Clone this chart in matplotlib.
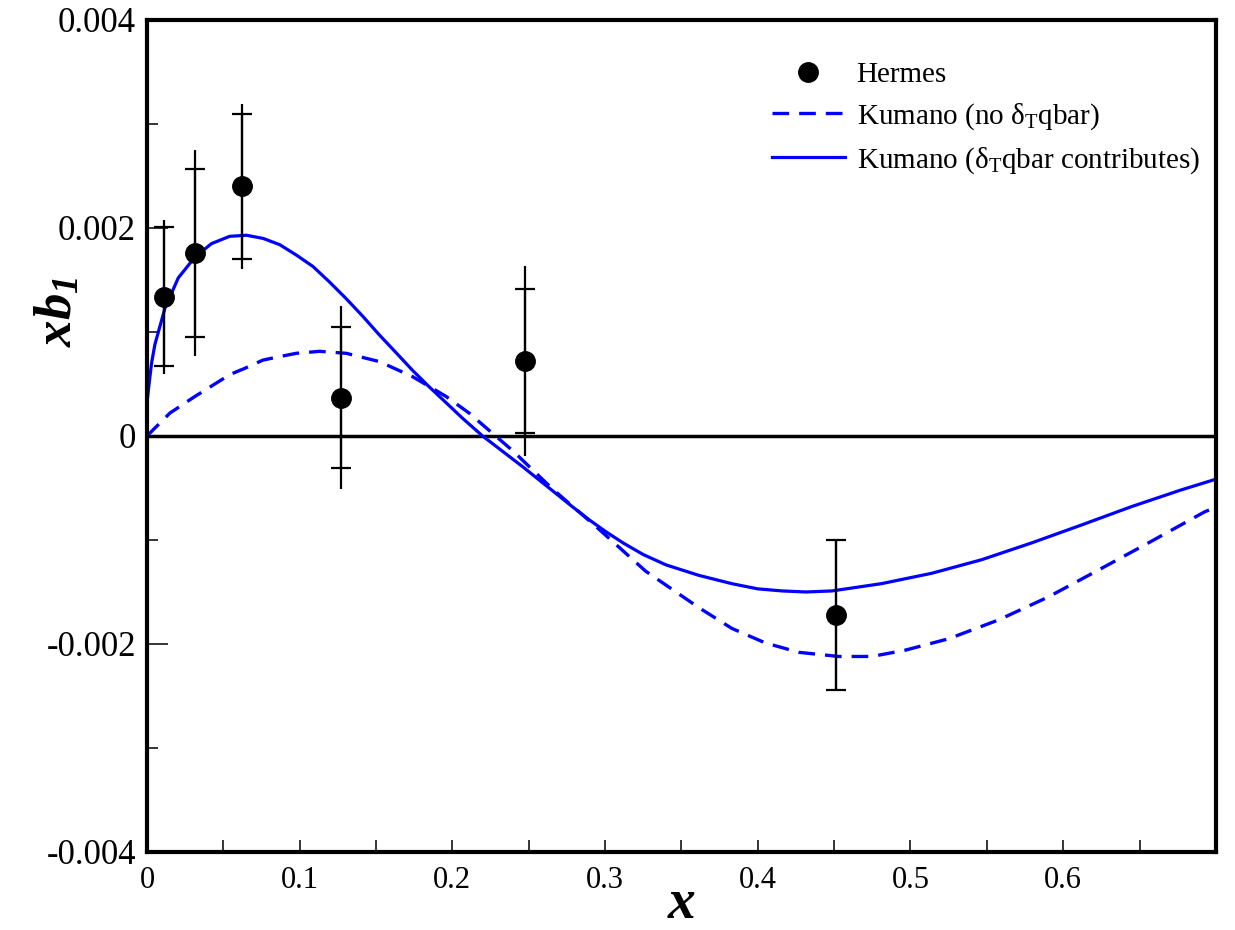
import matplotlib
matplotlib.use('Agg')
import matplotlib.pyplot as plt
from matplotlib.ticker import MultipleLocator, FuncFormatter

plt.rcParams['font.family'] = ['Liberation Serif', 'DejaVu Serif']
plt.rcParams['mathtext.fontset'] = 'custom'
plt.rcParams['mathtext.rm'] = 'Liberation Serif'
plt.rcParams['mathtext.it'] = 'Liberation Serif:italic:bold'
plt.rcParams['mathtext.bf'] = 'Liberation Serif:italic:bold'

# Hermes data points
hermes_x = [0.0113, 0.0314, 0.0625, 0.1272, 0.2475, 0.451]
hermes_y = [0.00134, 0.00176, 0.00240, 0.00037, 0.00072, -0.00172]
hermes_stat = [0.00067, 0.00081, 0.00070, 0.00068, 0.00069, 0.00072]
hermes_tot = [0.00074, 0.00099, 0.00079, 0.00088, 0.00091, 0.00072]

# Kumano, delta_T qbar contributes (solid)
solid_x = [0.0005, 0.001, 0.003, 0.0052, 0.0118, 0.0205, 0.0314, 0.0423,
           0.0542, 0.0652, 0.076, 0.0869, 0.0978, 0.1087, 0.1196, 0.1305,
           0.1414, 0.1523, 0.1632, 0.174, 0.185, 0.1959, 0.2067, 0.2198,
           0.246, 0.2786, 0.290, 0.3005, 0.312, 0.325, 0.340, 0.3614,
           0.383, 0.400, 0.416, 0.4316, 0.4486, 0.481, 0.514, 0.5466,
           0.579, 0.612, 0.6446, 0.677, 0.699]
solid_y = [0.00038, 0.00045, 0.00070, 0.00088, 0.00123, 0.00152, 0.00172,
           0.00185, 0.00192, 0.00193, 0.00190, 0.00184, 0.00174, 0.00163,
           0.00148, 0.00132, 0.00115, 0.00097, 0.00080, 0.00063, 0.00047,
           0.00032, 0.00017, 0.0, -0.000295, -0.00068, -0.00081,
           -0.00092, -0.00103, -0.00114, -0.00124, -0.00134, -0.00142,
           -0.00147, -0.00149, -0.00150, -0.00149, -0.00142, -0.00132,
           -0.00119, -0.00103, -0.000856, -0.00068, -0.00052, -0.00042]

# Kumano, no delta_T qbar (dashed)
dash_x = [0.0, 0.015, 0.0314, 0.0488, 0.0542, 0.064, 0.076, 0.0858,
          0.0978, 0.113, 0.1305, 0.1523, 0.174, 0.1959, 0.211, 0.222,
          0.2394, 0.2656, 0.294, 0.3266, 0.3614, 0.383, 0.405, 0.4268,
          0.453, 0.4747, 0.4965, 0.525, 0.5575, 0.590, 0.623, 0.6556,
          0.6926, 0.699]
dash_y = [0.0, 0.00022, 0.00038, 0.00054, 0.00059, 0.00065, 0.00073,
          0.00076, 0.000795, 0.000814, 0.000795, 0.000715, 0.00057,
          0.00038, 0.00022, 0.00008, -0.00014, -0.00051, -0.00087,
          -0.00130, -0.00165, -0.00185, -0.00199, -0.00208, -0.00212,
          -0.00212, -0.00206, -0.00195, -0.00177, -0.00155, -0.00129,
          -0.00103, -0.00073, -0.00069]

fig = plt.figure(figsize=(12.35, 9.3), dpi=100)
ax = fig.add_axes([0.119, 0.0839, 0.8655, 0.8946])

ax.axhline(0, color='k', lw=2.5, zorder=1)

ax.plot(dash_x, dash_y, color='#0000ff', lw=2.4, dashes=(5, 3),
        label=r'Kumano (no $\mathrm{\delta_T}$qbar)', zorder=2)
ax.plot(solid_x, solid_y, color='#0000ff', lw=2.3,
        label=r'Kumano ($\mathrm{\delta_T}$qbar contributes)', zorder=2)

ax.errorbar(hermes_x, hermes_y, yerr=hermes_tot, fmt='none', ecolor='k',
            elinewidth=1.6, capsize=0, zorder=3)
ax.errorbar(hermes_x, hermes_y, yerr=hermes_stat, fmt='none', ecolor='k',
            elinewidth=1.6, capsize=7, capthick=1.6, zorder=3)
ax.plot(hermes_x, hermes_y, 'o', color='k', ms=14, zorder=4, label='Hermes')

ax.set_xlim(0, 0.7)
ax.set_ylim(-0.004, 0.004)
ax.xaxis.set_major_locator(MultipleLocator(0.1))
ax.xaxis.set_minor_locator(MultipleLocator(0.05))
ax.yaxis.set_major_locator(MultipleLocator(0.002))
ax.yaxis.set_minor_locator(MultipleLocator(0.001))
ax.xaxis.set_major_formatter(FuncFormatter(
    lambda v, p: '0' if abs(v) < 1e-9 else ('%.1f' % v if v < 0.65 else '')))
ax.yaxis.set_major_formatter(FuncFormatter(
    lambda v, p: '0' if abs(v) < 1e-9 else '%.3f' % v))
ax.tick_params(which='both', direction='in', top=False, right=False, width=1.1)
ax.tick_params(axis='y', which='major', length=15, labelsize=25, pad=8)
ax.tick_params(axis='y', which='minor', length=8)
ax.tick_params(axis='x', which='both', length=9, labelsize=22, pad=10)
for s in ax.spines.values():
    s.set_linewidth(3)

ax.set_xlabel('x', fontsize=40, fontstyle='italic', fontweight='bold')
ax.xaxis.set_label_coords(0.5, -0.031)
ax.set_ylabel(r'$xb_{\mathbf{1}}$', fontsize=38)
ax.yaxis.set_label_coords(-0.06, 0.649)

handles, labels = ax.get_legend_handles_labels()
order = [2, 0, 1]
ax.legend([handles[i] for i in order], [labels[i] for i in order],
          loc='upper left', bbox_to_anchor=(0.5847, 0.950), frameon=False,
          fontsize=21, handlelength=2.5, handletextpad=0.4,
          labelspacing=0.45, borderpad=0, borderaxespad=0)

fig.savefig('out.png', dpi=100)
